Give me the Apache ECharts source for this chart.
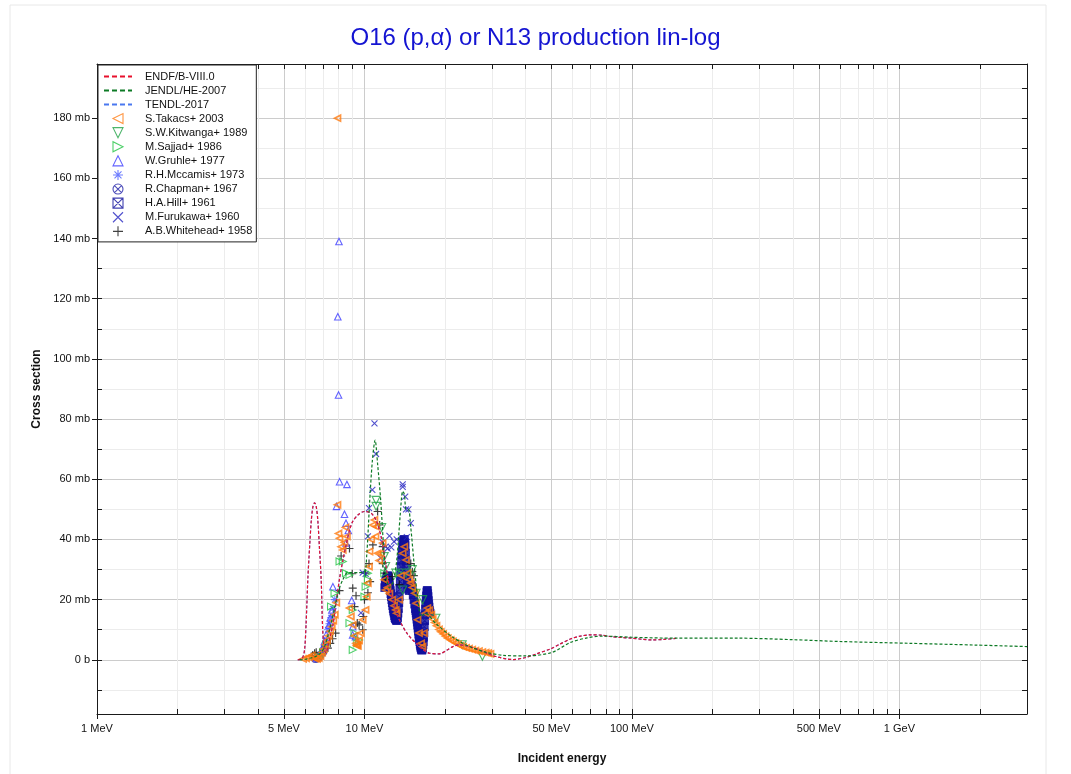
<!DOCTYPE html>
<html>
<head>
<meta charset="utf-8">
<script src="https://cdn.jsdelivr.net/npm/echarts@6/dist/echarts.min.js"></script>
<style>
html,body{margin:0;padding:0;background:#fff;}
#chart{width:1071px;height:774px;}
</style>
</head>
<body>
<div id="chart"></div>
<script>
// ---------- tick labels ----------
const X_MAJOR = [1, 5, 10, 50, 100, 500, 1000];
const X_MINOR = [2, 3, 4, 6, 7, 8, 9, 20, 30, 40, 60, 70, 80, 90, 200, 300, 400, 600, 700, 800, 900, 2000, 3000];
const Y_MAJOR = [0, 20, 40, 60, 80, 100, 120, 140, 160, 180];
const Y_MINOR = [-10, 10, 30, 50, 70, 90, 110, 130, 150, 170, 190];
const X_ALL = X_MAJOR.concat(X_MINOR).sort((a, b) => a - b);
const Y_ALL = Y_MAJOR.concat(Y_MINOR).sort((a, b) => a - b);

// ---------- series names ----------
const NAMES = ['ENDF/B-VIII.0', 'JENDL/HE-2007', 'TENDL-2017', 'S.Takacs+ 2003', 'S.W.Kitwanga+ 1989',
  'M.Sajjad+ 1986', 'W.Gruhle+ 1977', 'R.H.Mccamis+ 1973', 'R.Chapman+ 1967', 'H.A.Hill+ 1961',
  'M.Furukawa+ 1960', 'A.B.Whitehead+ 1958'];

// ---------- evaluated curves [E (MeV), sigma (mb)] ----------
const endf = [[5.63,0],[5.85,0.5],[5.97,3.3],[6.05,12],[6.14,26.6],[6.24,38],[6.33,46.5],[6.42,51],[6.51,52.2],
  [6.6,51],[6.69,46.5],[6.79,37],[6.89,26.6],[6.98,10],[7.08,3.3],[7.19,2.3],[7.3,4.5],[7.45,8],[7.62,11.5],
  [7.86,20],[8.07,27],[8.3,33],[8.53,38],[8.79,43],[9.04,46],[9.5,48.3],[10.0,49.3],[10.6,48.7],[11.1,46],
  [11.6,40],[12.0,32],[12.4,24.3],[13.0,17.5],[13.5,13.3],[14.5,8.5],[15.6,5.5],[16.5,3.5],[17.5,2.2],
  [19.05,2],[20.3,3.2],[21.4,4.4],[22.6,5],[24.5,4.5],[26.9,3.3],[29,2],[31,1.1],[34,0.3],[36,0.1],
  [39.7,0.7],[44,2],[49.5,3.6],[54,5.3],[59.2,7],[64,7.9],[70.4,8.3],[77,8.2],[83.8,7.7],[92,7.4],
  [100,7.2],[110,6.8],[119,6.6],[132,6.8],[146,7.1]];
const jendl = [[5.72,0],[6.0,0.2],[6.3,0.6],[6.6,1.2],[6.9,2.5],[7.1,4.5],[7.3,8],[7.5,12],[7.7,16.5],
  [7.86,20],[8.07,24],[8.3,26.6],[8.65,29],[9.0,29],[9.5,29],[10.0,29.2],[10.2,35],[10.45,52],[10.7,66],
  [10.96,73],[11.2,65],[11.5,53],[11.86,34],[12.1,27],[12.4,24],[12.8,26],[13.2,33],[13.6,48],[13.9,56],
  [14.1,55],[14.3,50],[14.6,50],[14.9,44],[15.4,30],[15.8,21],[16.3,14.4],[16.9,15.5],[18.5,12],
  [21.4,7.5],[24.6,4.5],[28.5,2.5],[33,1.5],[40,1.3],[50,2.4],[59,5.8],[68,7.3],[77,7.9],[100,7.5],
  [146,7.2],[249,7.2],[399,6.7],[599,6.1],[1083,5.5],[1940,4.9],[3000,4.4]];
const tendl = [[5.63,0],[5.85,0.5],[5.97,3.3],[6.05,12],[6.14,26.6],[6.24,38],[6.33,46.5],[6.42,51],[6.51,52.2],
  [6.6,51],[6.69,46.5],[6.79,37],[6.89,26.6],[6.98,10],[7.08,3.3],[7.19,2.3],[7.3,4.5],[7.45,8],[7.62,11.5],
  [7.86,20],[8.07,27],[8.3,33],[8.53,38],[8.79,43],[9.04,46],[9.5,48.3],[10.0,49.3],[10.6,48.7],[11.1,46],
  [11.6,40],[12.0,32],[12.4,24.3],[13.0,17.5],[13.5,13.3],[14.5,8.5],[15.6,5.5],[16.5,3.5],[17.5,2.2],
  [19.05,2],[20.3,3.2],[21.4,4.4],[22.6,5],[24.5,4.5],[26.9,3.3],[29,2],[31,1.1],[34,0.3],[36,0.1],
  [39.7,0.7],[44,2],[49.5,3.6],[54,5.3],[59.2,7],[64,7.9],[70.4,8.3],[77,8.2],[83.8,7.7],[92,7.4],
  [100,7.2],[110,6.8],[119,6.6],[132,6.8],[146,7.1]];

// ---------- experimental data [E (MeV), sigma (mb)] ----------
const takacs = [[5.9,0.3],[6.05,0.5],[6.2,0.8],[6.35,1.5],[6.45,0.8],[6.55,0.4],[6.65,0.3],[6.75,0.6],
  [6.85,1.2],[6.95,2.4],[7.05,3.6],[7.15,5],[7.25,6.5],[7.35,8],[7.45,9.5],[7.55,11],[7.65,13],[7.75,15],
  [7.85,19],[7.93,180],[7.93,51.5],[8.0,42],[8.07,40.4],[8.18,37.6],[8.3,36.5],[8.42,39],[8.5,44],[8.6,41],
  [8.79,17.2],[8.9,14.4],[9.04,11.6],[9.18,8],[9.3,5.5],[9.35,4.8],[9.4,5],[9.45,4.6],[9.55,6.5],[9.7,8.9],
  [9.85,13.3],[10.1,16.6],[10.2,21],[10.3,25.5],[10.4,31],[10.45,36],[10.6,40],[10.75,44.8],[10.9,46.5],
  [11.0,41],[11.05,44.3],[11.2,35.4],[11.35,33],[11.5,35.4],[11.7,38.8],[11.86,26.6],[12.0,23.2],[12.2,24],
  [12.4,22],[12.7,20],[12.9,18],[13.1,16.6],[13.2,15.5],[13.5,20],[13.7,28],[13.9,35.4],[14.1,37.6],
  [14.3,33.2],[14.5,28.8],[14.7,26.6],[14.9,25.5],[15.1,24],[15.4,22.1],[15.6,18.8],[15.8,13.3],[16.0,8.9],
  [16.3,5.5],[16.5,4.4],[16.7,8.9],[16.9,15.5],[17.2,17.2],[17.5,16.5],[17.8,15],[18.0,13.5],[18.3,12.4],
  [18.6,11.3],[19.0,10.1],[19.3,9.3],[19.7,8.6],[20.1,7.8],[20.5,7.2],[21.0,6.6],[21.4,6.1],[21.9,5.6],
  [22.4,5.1],[22.9,4.7],[23.4,4.3],[24.0,4.0],[24.6,3.7],[25.3,3.4],[26.0,3.1],[26.8,2.9],[27.6,2.6],
  [28.4,2.4],[29.0,2.2],[29.6,2.0]];
const kitwanga = [[11.05,53],[11.05,51],[11.6,44],[11.86,34.3],[12.0,31],[13.1,28.8],[13.9,23.2],[14.3,28.8],
  [15.1,30],[15.6,22.1],[16.5,20],[18.5,13.8],[23.2,5],[27.6,1.2]];
const sajjad = [[6.8,1],[7.0,2.5],[7.2,5],[7.5,17.7],[7.73,22.1],[8.07,32.7],[8.3,32.7],[8.53,28.8],[8.79,28.2],
  [8.79,12.2],[9.04,16.6],[9.18,8.9],[9.04,3.3],[9.4,5.5],[9.55,6.6],[10.0,21],[10.1,24.3],[10.3,28.8],
  [10.3,26.6],[11.86,28.8],[13.5,28.8]];
const gruhle = [[6.6,0.6],[6.8,1.5],[7.0,4],[7.08,6.1],[7.19,8.3],[7.36,11.6],[7.45,14],[7.55,16.6],[7.62,24.3],
  [7.86,51],[7.95,114],[8.0,88],[8.03,139],[8.07,59.2],[8.42,48.4],[8.53,45.4],[8.6,58.3],[8.7,43],[8.53,38.8],
  [8.96,19.7],[9.03,8.3],[9.25,7.7],[9.04,11]];
const mccamis = [[6.9,2],[7.05,4],[7.2,6.5],[7.3,10],[7.4,12],[7.5,14],[7.62,17],[7.75,20]];
const chapman = [[6.55,0.3],[6.65,0.5],[6.75,0.8],[6.85,1.5],[7.0,2.5],[7.1,4]];
const hill = [[11.9,24],[11.95,25],[12.0,26],[12.05,26.5],[12.1,27],[12.15,27.5],[12.2,28],[12.25,27.8],[12.3,27],
  [12.35,26],[12.4,25],[12.45,24],[12.5,23],[12.55,22],[12.6,21],[12.65,20],[12.7,19],[12.75,18],[12.8,17],
  [12.85,16.2],[12.9,15.5],[12.95,14.7],[13.0,14],[13.05,13.7],[13.1,13.5],[13.15,13.2],[13.2,13],[13.25,13.3],
  [13.3,14],[13.35,15.5],[13.4,17],[13.45,19],[13.5,21],[13.55,23.5],[13.6,26],[13.65,28.5],[13.7,31],
  [13.75,33],[13.8,35],[13.85,36.5],[13.9,38],[13.95,39],[14.0,39.5],[14.05,40],[14.1,40],[14.15,39],
  [14.2,38],[14.25,35.5],[14.3,33],[14.35,30.5],[14.4,28],[14.45,26.5],[14.5,25],[14.6,23.5],[14.7,23],
  [14.8,24],[14.9,25],[15.0,24.5],[15.1,23],[15.2,21.5],[15.3,20],[15.4,18.5],[15.5,17],[15.55,16.3],
  [15.6,15.5],[15.65,14.5],[15.7,13.5],[15.75,12.5],[15.8,11.5],[15.85,10.5],[15.9,9.5],[15.95,8.5],
  [16.0,7.5],[16.05,6.7],[16.1,6],[16.15,5.2],[16.2,4.5],[16.25,4],[16.3,3.5],[16.35,3.3],[16.4,3.2],
  [16.45,3.5],[16.5,4],[16.55,5],[16.6,6],[16.65,7.5],[16.7,9],[16.75,11],[16.8,13],[16.85,15],[16.9,17],
  [16.95,18.5],[17.0,20],[17.05,21.3],[17.1,22.5],[17.15,23],[17.2,23],[17.25,22],[17.3,21],[17.35,19.7],
  [17.4,18.5],[17.45,17.5],[17.5,16.5],[17.55,16],[17.6,15.5]];
const furukawa = [[9.7,15.6],[9.85,29],[10.1,28.6],[10.3,41],[10.4,50.4],[10.7,56.5],[10.9,78.6],[11.05,68.4],
  [11.5,33.8],[11.7,39],[12.0,37.6],[12.2,37],[12.4,41.2],[12.6,37.4],[12.9,39.3],[13.2,40],[13.5,28],
  [13.9,57.5],[13.9,58.3],[14.2,54.2],[14.3,50],[14.4,40.8],[14.6,50],[14.9,45.4]];
const whitehead = [[6.4,1.5],[6.51,2.2],[6.6,2.5],[7.0,3.5],[7.3,3.9],[7.45,5.5],[7.6,7],[7.8,8.9],[8.07,23],
  [8.18,34.5],[8.79,37],[9.0,28.6],[9.04,23.8],[9.18,17.7],[9.3,21.3],[9.4,12.2],[9.55,11.6],[9.85,10],
  [9.9,14.4],[10.0,20],[10.1,28.8],[10.3,22.3],[10.4,32],[10.5,26],[10.75,38.2],[11.2,49.3],[11.4,44.8],
  [11.7,37.6],[11.7,32],[11.86,28.8],[12.0,26.6],[12.7,27.7],[13.5,25],[14.9,32],[15.1,29.3],[15.3,28]];

// ---------- symbols ----------
const SYM = {
  left: 'path://M0,5L10,0L10,10Z',
  down: 'path://M0,0L10,0L5,10Z',
  right: 'path://M10,5L0,0L0,10Z',
  up: 'path://M5,0L10,10L0,10Z',
  star: 'path://M5,0L5,10M0,5L10,5M1.5,1.5L8.5,8.5M8.5,1.5L1.5,8.5',
  circX: 'path://M10,5A5,5,0,1,1,0,5A5,5,0,1,1,10,5ZM1.5,1.5L8.5,8.5M8.5,1.5L1.5,8.5',
  sqX: 'path://M0,0L10,0L10,10L0,10ZM0,0L10,10M10,0L0,10',
  cross: 'path://M0,0L10,10M10,0L0,10',
  plus: 'path://M5,0L5,10M0,5L10,5'
};

const FONT = 'Liberation Sans, Arial, sans-serif';

function lineSeries(name, data, color, z) {
  return { name, type: 'line', data, xAxisIndex: 0, yAxisIndex: 0, symbol: 'none', showSymbol: false,
    smooth: 0.3, lineStyle: { color, width: 1.2, type: [3, 2] }, itemStyle: { color, opacity: 0 }, z,
    emphasis: { disabled: true }, silent: true };
}
function scatterSeries(name, data, symbol, color, size, z, fill, bw) {
  return { name, type: 'scatter', data, xAxisIndex: 0, yAxisIndex: 0, symbol, symbolSize: size,
    symbolKeepAspect: true, itemStyle: { color: fill || 'transparent', borderColor: color, borderWidth: bw || 1.1 }, z,
    emphasis: { disabled: true }, silent: true };
}

function eLabel(v) { return v >= 1000 ? (v / 1000) + ' GeV' : v + ' MeV'; }
function sLabel(v) { return v === 0 ? '0 b' : v + ' mb'; }

const AX = '#1a1a1a';
const baseX = { type: 'log', logBase: 10, min: 1, max: 3000, gridIndex: 0 };
const baseY = { type: 'value', min: -18, max: 198, gridIndex: 0, scale: false };
const NOLINE = { show: false, onZero: false };

const legendData = NAMES.map((n, i) => i < 3 ? { name: n, itemStyle: { opacity: 0 } }
  : (i === 9 ? { name: n, itemStyle: { color: 'transparent' } } : { name: n }));

const option = {
  animation: false,
  backgroundColor: '#ffffff',
  textStyle: { fontFamily: FONT },
  title: { text: 'O16 (p,α) or N13 production lin-log', left: 'center', top: 21,
    textStyle: { color: '#1414d2', fontSize: 24, fontWeight: 'normal', fontFamily: FONT } },
  graphic: [{ type: 'rect', shape: { x: 10, y: 5, width: 1036, height: 800 }, silent: true, z: -10,
    style: { fill: 'none', stroke: '#e8e8e8', lineWidth: 1 } }],
  grid: { left: 97, right: 44, top: 64, bottom: 60, containLabel: false },
  legend: {
    data: legendData, orient: 'vertical', left: 98, top: 65, itemWidth: 28, itemHeight: 10, itemGap: 3,
    padding: [6, 4, 5, 5], backgroundColor: '#ffffff', borderColor: '#222', borderWidth: 1,
    textStyle: { fontSize: 11, color: '#111', fontFamily: FONT, padding: [0, 0, 0, 8] },
    itemStyle: { borderWidth: 1.1 }, lineStyle: { width: 2, type: [5, 3] },
    selectedMode: false, z: 20
  },
  xAxis: [
    Object.assign({}, baseX, { position: 'bottom',
      axisLine: { show: true, onZero: false, lineStyle: { color: AX, width: 1 } },
      axisTick: { show: true, inside: false, length: 5, customValues: X_MAJOR, lineStyle: { color: AX } },
      axisLabel: { show: true, customValues: X_MAJOR, formatter: eLabel, margin: 9, fontSize: 11, color: '#111', fontFamily: FONT },
      splitLine: { show: true, lineStyle: { color: '#cccccc', width: 1 } },
      minorTick: { show: false }, minorSplitLine: { show: false },
      name: 'Incident energy', nameLocation: 'middle', nameGap: 39,
      nameTextStyle: { fontWeight: 'bold', fontSize: 12, color: '#111', fontFamily: FONT } }),
    Object.assign({}, baseX, { position: 'bottom', axisLine: NOLINE,
      axisTick: { show: false, customValues: X_MINOR }, axisLabel: { show: false },
      splitLine: { show: true, lineStyle: { color: '#ececec', width: 1 } } }),
    Object.assign({}, baseX, { position: 'bottom', axisLine: NOLINE,
      axisTick: { show: true, inside: true, length: 5, customValues: X_ALL, lineStyle: { color: AX } },
      axisLabel: { show: false }, splitLine: { show: false } }),
    Object.assign({}, baseX, { position: 'top', axisLine: { show: true, onZero: false, lineStyle: { color: AX } },
      axisTick: { show: true, inside: true, length: 5, customValues: X_ALL, lineStyle: { color: AX } },
      axisLabel: { show: false }, splitLine: { show: false } })
  ],
  yAxis: [
    Object.assign({}, baseY, { position: 'left',
      axisLine: { show: true, onZero: false, lineStyle: { color: AX, width: 1 } },
      axisTick: { show: true, inside: false, length: 5, customValues: Y_MAJOR, lineStyle: { color: AX } },
      axisLabel: { show: true, customValues: Y_MAJOR, formatter: sLabel, margin: 7, fontSize: 11, color: '#111', fontFamily: FONT },
      splitLine: { show: true, lineStyle: { color: '#cccccc', width: 1 } },
      name: 'Cross section', nameLocation: 'middle', nameGap: 52,
      nameTextStyle: { fontWeight: 'bold', fontSize: 12, color: '#111', fontFamily: FONT } }),
    Object.assign({}, baseY, { position: 'left', axisLine: NOLINE,
      axisTick: { show: false, customValues: Y_MINOR }, axisLabel: { show: false },
      splitLine: { show: true, lineStyle: { color: '#ececec', width: 1 } } }),
    Object.assign({}, baseY, { position: 'left', axisLine: NOLINE,
      axisTick: { show: true, inside: true, length: 5, customValues: Y_ALL, lineStyle: { color: AX } },
      axisLabel: { show: false }, splitLine: { show: false } }),
    Object.assign({}, baseY, { position: 'right', axisLine: { show: true, onZero: false, lineStyle: { color: AX } },
      axisTick: { show: true, inside: true, length: 5, customValues: Y_ALL, lineStyle: { color: AX } },
      axisLabel: { show: false }, splitLine: { show: false } })
  ],
  series: [
    scatterSeries(NAMES[9], hill, SYM.sqX, '#10109e', 7.5, 2, '#10109e', 1.1),
    scatterSeries(NAMES[11], whitehead, SYM.plus, '#111111', 8, 2, null, 1.2),
    scatterSeries(NAMES[10], furukawa, SYM.cross, '#2424c0', 6, 2),
    scatterSeries(NAMES[8], chapman, SYM.circX, '#2020a8', 7, 2),
    scatterSeries(NAMES[7], mccamis, SYM.star, '#4a5cff', 8, 2),
    scatterSeries(NAMES[6], gruhle, SYM.up, '#3c3cff', 6.5, 2),
    scatterSeries(NAMES[5], sajjad, SYM.right, '#22c443', 7, 2),
    scatterSeries(NAMES[4], kitwanga, SYM.down, '#1fa245', 8, 2),
    scatterSeries(NAMES[3], takacs, SYM.left, '#ff7a10', 6, 2, null, 1.7),
    lineSeries(NAMES[2], tendl, '#4a78f0', 3),
    lineSeries(NAMES[0], endf, '#e8102c', 4),
    lineSeries(NAMES[1], jendl, '#0d7a25', 5)
  ]
};

const chart = echarts.init(document.getElementById('chart'), null, { renderer: 'canvas' });
chart.setOption(option);
</script>
</body>
</html>
